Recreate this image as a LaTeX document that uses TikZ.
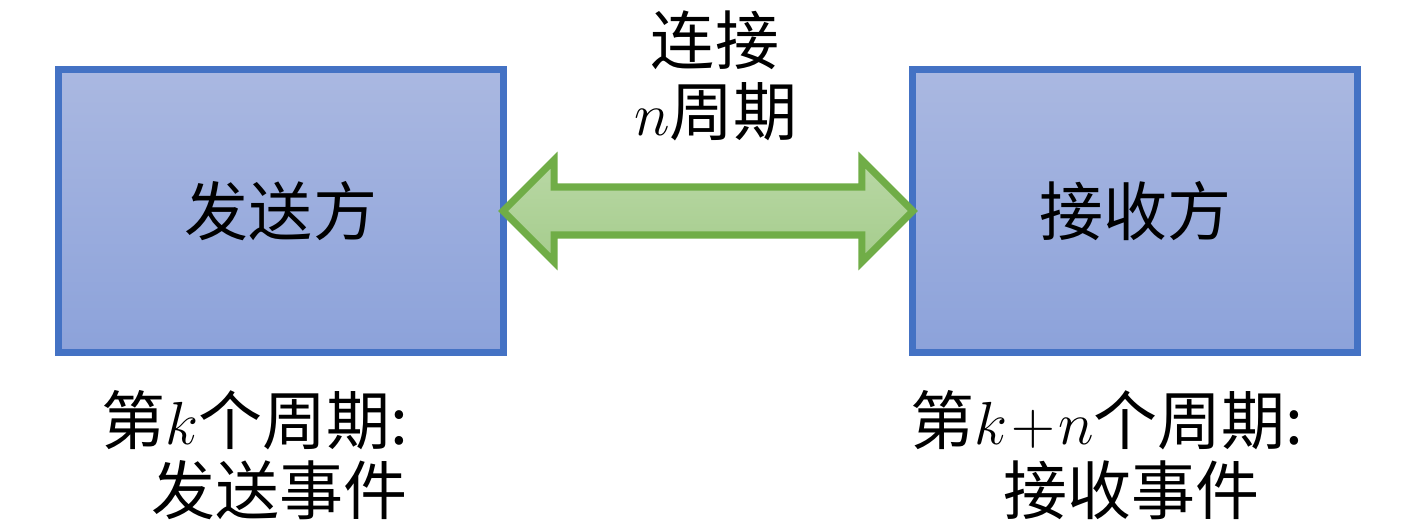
\documentclass[tikz,border=0pt]{standalone}
\usepackage{fontspec}
\newfontfamily\cjk{Noto Sans CJK SC}
\usetikzlibrary{calc}
\definecolor{boxline}{RGB}{68,114,196}
\definecolor{boxtop}{RGB}{170,184,225}
\definecolor{boxbot}{RGB}{140,162,218}
\definecolor{arrline}{RGB}{112,173,71}
\definecolor{arrtop}{RGB}{185,216,165}
\definecolor{arrbot}{RGB}{165,204,140}
\tikzset{
  party/.style={draw=boxline, line width=2pt, top color=boxtop, bottom color=boxbot,
    minimum width=4.44cm, minimum height=2.82cm, outer sep=0pt, inner sep=0pt,
    font=\cjk\fontsize{18.2pt}{22pt}\selectfont},
  label/.style={inner sep=0pt, font=\cjk\fontsize{18.2pt}{22pt}\selectfont},
  link/.style={draw=arrline, line width=2pt, top color=arrtop, bottom color=arrbot, line join=miter}
}
\begin{document}
\begin{tikzpicture}[x=0.01cm, y=-0.01cm]
\useasboundingbox (0,0) rectangle (1417,531);
\node[party] (L) at (281,211) {发送方};
\node[party] (R) at (1135,211) {接收方};
\draw[link] (L.east) -- ++(51,-51) -- ++(0,27) -- ($(R.west)+(-51,-24)$) -- ($(R.west)+(-51,-51)$)
  -- (R.west) -- ($(R.west)+(-51,51)$) -- ($(R.west)+(-51,24)$) -- ($(L.east)+(51,24)$)
  -- ($(L.east)+(51,51)$) -- cycle;
\node[label] (t1) at (715,40) {连接};
\node[label] (t2) at (716,112) {$n$周期};
\node[label, anchor=west] (b1) at (101,420) {第$k$个周期:};
\node[label, anchor=west] (b2) at (151,490) {发送事件};
\node[label, anchor=west] (b3) at (910,420) {第$k\!+\!n$个周期:};
\node[label, anchor=west] (b4) at (1003,490) {接收事件};
\end{tikzpicture}
\end{document}
